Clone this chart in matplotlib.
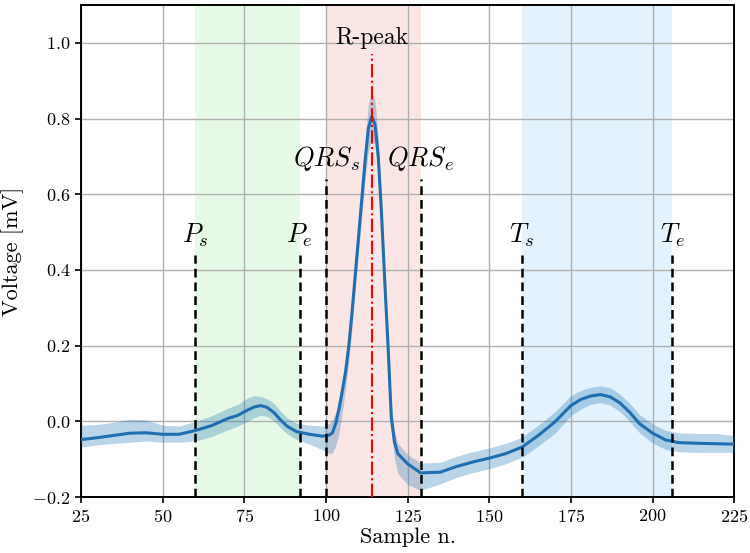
import matplotlib
matplotlib.use("Agg")
import matplotlib.pyplot as plt
from matplotlib.ticker import FuncFormatter

plt.rcParams["font.family"] = ["cmr10", "DejaVu Serif"]
plt.rcParams["mathtext.fontset"] = "cm"
plt.rcParams["axes.formatter.use_mathtext"] = True

# averaged beat: sample index, mean voltage and band limits (mV)
sample = [25, 30, 35, 40, 45, 50, 55, 60, 65, 70, 73, 76, 78, 80, 82, 84, 86, 88,
          91, 95, 99, 101, 102, 103, 104, 105, 106, 107, 108, 109, 110, 111, 112,
          113, 114, 115, 116, 117, 118, 119, 120, 121, 122, 125, 129, 135, 140,
          145, 150, 155, 160, 165, 170, 175, 178, 181, 184, 187, 190, 193, 196,
          200, 204, 208, 215, 220, 225]
mean_v = [-0.048, -0.043, -0.037, -0.031, -0.030, -0.034, -0.034, -0.024, -0.011,
          0.008, 0.016, 0.030, 0.038, 0.042, 0.037, 0.024, 0.005, -0.012,
          -0.027, -0.034, -0.039, -0.036, -0.030, -0.005, 0.033, 0.080, 0.130,
          0.200, 0.290, 0.390, 0.490, 0.590, 0.690, 0.775, 0.805, 0.785, 0.700,
          0.550, 0.370, 0.200, 0.010, -0.055, -0.085, -0.112, -0.136, -0.134,
          -0.119, -0.107, -0.097, -0.085, -0.068, -0.037, -0.002, 0.042, 0.058,
          0.067, 0.071, 0.065, 0.049, 0.024, -0.006, -0.031, -0.049, -0.056,
          -0.058, -0.059, -0.060]
low_v = [-0.068, -0.062, -0.058, -0.055, -0.052, -0.055, -0.055, -0.052, -0.040,
         -0.022, -0.012, 0.000, 0.010, 0.016, 0.013, 0.002, -0.016, -0.032,
         -0.048, -0.060, -0.075, -0.085, -0.082, -0.065, -0.032, 0.025, 0.085,
         0.160, 0.250, 0.350, 0.450, 0.545, 0.640, 0.715, 0.745, 0.730, 0.655,
         0.510, 0.330, 0.160, -0.030, -0.100, -0.138, -0.167, -0.182, -0.165,
         -0.148, -0.135, -0.125, -0.112, -0.095, -0.065, -0.032, 0.015, 0.033,
         0.045, 0.050, 0.043, 0.026, 0.000, -0.030, -0.057, -0.074, -0.080,
         -0.082, -0.082, -0.082]
high_v = [-0.010, -0.008, -0.002, 0.006, 0.004, -0.010, -0.012, 0.000, 0.015,
          0.035, 0.045, 0.062, 0.068, 0.066, 0.060, 0.048, 0.028, 0.010,
          -0.005, -0.010, -0.012, -0.005, 0.005, 0.025, 0.062, 0.115, 0.170,
          0.240, 0.330, 0.430, 0.535, 0.640, 0.745, 0.840, 0.870, 0.850, 0.750,
          0.590, 0.410, 0.240, 0.050, -0.025, -0.058, -0.087, -0.110, -0.108,
          -0.092, -0.080, -0.070, -0.058, -0.042, -0.010, 0.025, 0.068, 0.082,
          0.090, 0.094, 0.089, 0.072, 0.048, 0.018, -0.006, -0.024, -0.030,
          -0.032, -0.032, -0.038]

# fiducial points
p_on, p_off = 60, 92
qrs_on, qrs_off = 100, 129
t_on, t_off = 160, 206
r_peak = 114

fig = plt.figure(figsize=(7.5, 5.53), dpi=100)
ax = fig.add_axes([0.108, 0.101, 0.871, 0.890])

ax.axvspan(p_on, p_off, color="#e6f9e6", lw=0, zorder=0)
ax.axvspan(qrs_on, qrs_off, color="#fbe6e6", lw=0, zorder=0)
ax.axvspan(t_on, t_off, color="#e3f2fc", lw=0, zorder=0)

ax.fill_between(sample, low_v, high_v, color="#1f77b4", alpha=0.3, lw=0, zorder=3)
ax.plot(sample, mean_v, color="#1f6fb0", lw=2.2, zorder=4)

dash = dict(color="black", ls=(0, (3.5, 2)), lw=1.8, zorder=5)
for x, top, lab in [(p_on, 0.44, "$P_s$"), (p_off, 0.44, "$P_e$"),
                    (qrs_on, 0.64, "$QRS_s$"), (qrs_off, 0.64, "$QRS_e$"),
                    (t_on, 0.44, "$T_s$"), (t_off, 0.44, "$T_e$")]:
    ax.plot([x, x], [-0.2, top], **dash)
    ax.text(x, top + 0.015, lab, ha="center", va="bottom", fontsize=19)

ax.plot([r_peak, r_peak], [-0.2, 0.97], color="red", ls="-.", lw=1.5, zorder=6)
ax.text(r_peak, 0.985, "R-peak", ha="center", va="bottom", fontsize=17)

ax.set_xlim(25, 225)
ax.set_ylim(-0.2, 1.1)
ax.set_xticks(range(25, 226, 25))
ax.set_yticks([-0.2, 0.0, 0.2, 0.4, 0.6, 0.8, 1.0])
ax.yaxis.set_major_formatter(FuncFormatter(lambda v, _: f"${v:.1f}$"))
ax.tick_params(labelsize=13, length=4, width=1.2)
ax.grid(color="#b0b0b0", lw=1)
for s in ax.spines.values():
    s.set_linewidth(1.4)

ax.set_xlabel("Sample n.", fontsize=16, labelpad=2)
ax.set_ylabel("Voltage [mV]", fontsize=16, labelpad=6)

fig.savefig("out.png", dpi=100)
